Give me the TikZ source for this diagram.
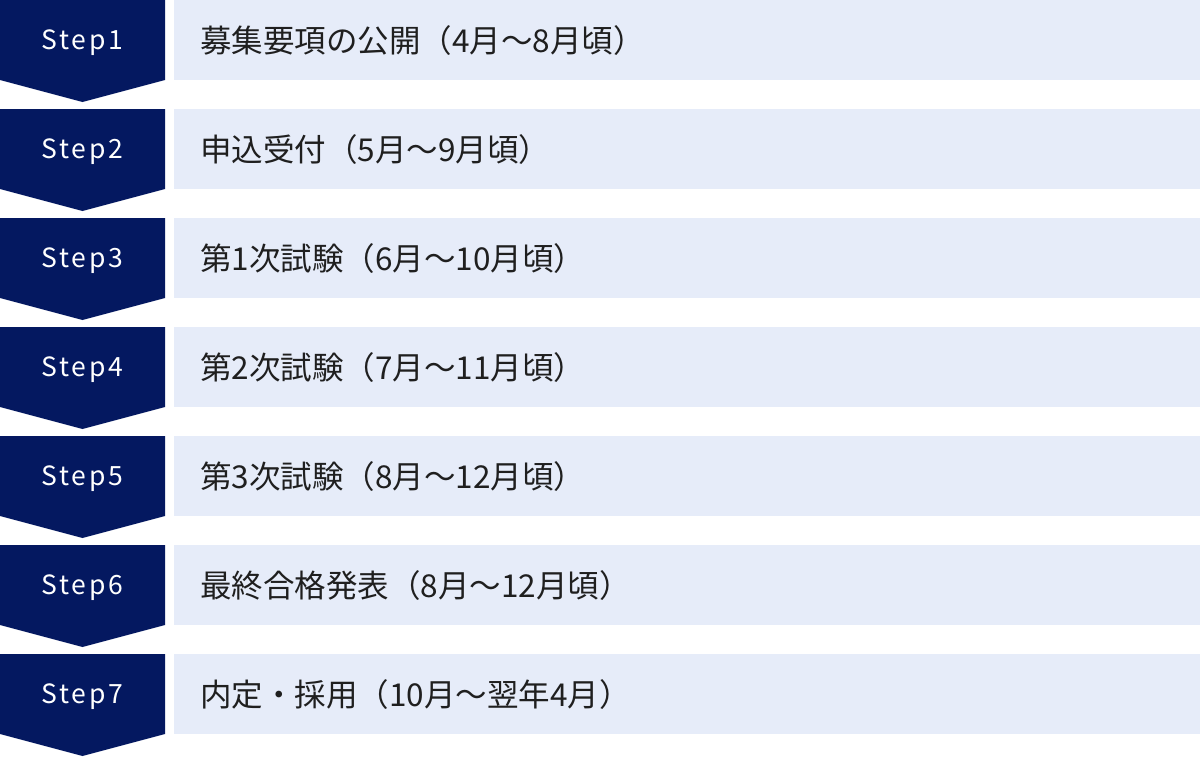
\documentclass[tikz,border=0pt]{standalone}
\usepackage{fontspec}
\usepackage{tikz}
\newfontfamily\jpfont{Noto Sans CJK JP}
\newfontfamily\stepfont[LetterSpace=10]{Noto Sans CJK JP}
\definecolor{stepblue}{RGB}{4,24,96}
\definecolor{rowblue}{RGB}{230,236,249}
\tikzset{
  steptext/.style={anchor=base, text=white, inner sep=0pt, font=\stepfont\fontsize{26.5}{26.5}\selectfont},
  rowtext/.style={anchor=base west, text=black!88, inner sep=0pt, font=\jpfont\fontsize{31.5}{31.5}\selectfont}
}
\begin{document}
\begin{tikzpicture}[x=1pt,y=-1pt]
   \useasboundingbox (0,0) rectangle (1200,756);

   \fill[stepblue] (0,0*109) -- (165,0*109) -- (165,0*109+80) -- (82.5,0*109+102) -- (0,0*109+80) -- cycle;
   \fill[rowblue] (174,0*109) rectangle (1200,0*109+80);
   \node[steptext] (step1) at (82.5,0*109+49.5) {Step1};
   \node[rowtext] (row1) at (200,0*109+52) {募集要項の公開（4月～8月頃）};

   \fill[stepblue] (0,1*109) -- (165,1*109) -- (165,1*109+80) -- (82.5,1*109+102) -- (0,1*109+80) -- cycle;
   \fill[rowblue] (174,1*109) rectangle (1200,1*109+80);
   \node[steptext] (step2) at (82.5,1*109+49.5) {Step2};
   \node[rowtext] (row2) at (200,1*109+52) {申込受付（5月～9月頃）};

   \fill[stepblue] (0,2*109) -- (165,2*109) -- (165,2*109+80) -- (82.5,2*109+102) -- (0,2*109+80) -- cycle;
   \fill[rowblue] (174,2*109) rectangle (1200,2*109+80);
   \node[steptext] (step3) at (82.5,2*109+49.5) {Step3};
   \node[rowtext] (row3) at (200,2*109+52) {第1次試験（6月～10月頃）};

   \fill[stepblue] (0,3*109) -- (165,3*109) -- (165,3*109+80) -- (82.5,3*109+102) -- (0,3*109+80) -- cycle;
   \fill[rowblue] (174,3*109) rectangle (1200,3*109+80);
   \node[steptext] (step4) at (82.5,3*109+49.5) {Step4};
   \node[rowtext] (row4) at (200,3*109+52) {第2次試験（7月～11月頃）};

   \fill[stepblue] (0,4*109) -- (165,4*109) -- (165,4*109+80) -- (82.5,4*109+102) -- (0,4*109+80) -- cycle;
   \fill[rowblue] (174,4*109) rectangle (1200,4*109+80);
   \node[steptext] (step5) at (82.5,4*109+49.5) {Step5};
   \node[rowtext] (row5) at (200,4*109+52) {第3次試験（8月～12月頃）};

   \fill[stepblue] (0,5*109) -- (165,5*109) -- (165,5*109+80) -- (82.5,5*109+102) -- (0,5*109+80) -- cycle;
   \fill[rowblue] (174,5*109) rectangle (1200,5*109+80);
   \node[steptext] (step6) at (82.5,5*109+49.5) {Step6};
   \node[rowtext] (row6) at (200,5*109+52) {最終合格発表（8月～12月頃）};

   \fill[stepblue] (0,6*109) -- (165,6*109) -- (165,6*109+80) -- (82.5,6*109+102) -- (0,6*109+80) -- cycle;
   \fill[rowblue] (174,6*109) rectangle (1200,6*109+80);
   \node[steptext] (step7) at (82.5,6*109+49.5) {Step7};
   \node[rowtext] (row7) at (200,6*109+52) {内定・採用（10月～翌年4月）};
\end{tikzpicture}
\end{document}
